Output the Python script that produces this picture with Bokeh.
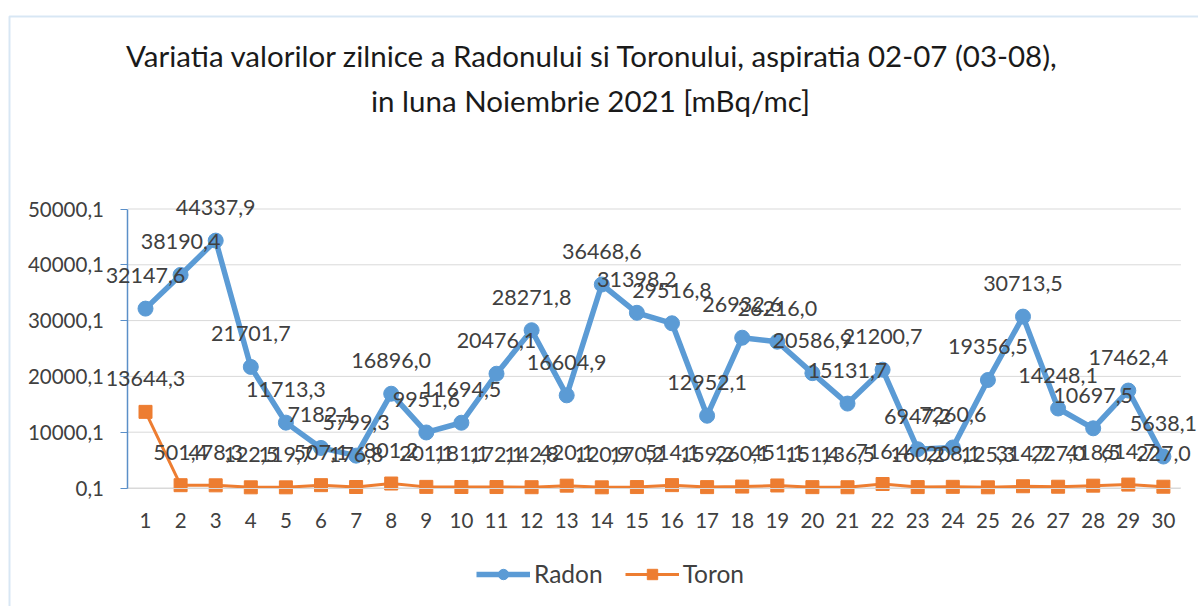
from bokeh.plotting import figure
from bokeh.models import (ColumnDataSource, LabelSet, Label, Legend, LegendItem,
                          FixedTicker, CustomJSTickFormatter, BoxAnnotation, Range1d)
from bokeh.core.properties import value
from bokeh.embed import file_html
from bokeh.resources import INLINE

# ---------------- data ----------------
days = list(range(1, 31))
radon = [32147.6, 38190.4, 44337.9, 21701.7, 11713.3, 7182.1, 5799.3, 16896.0,
         9951.6, 11694.5, 20476.1, 28271.8, 16604.9, 36468.6, 31398.2, 29516.8,
         12952.1, 26932.6, 26216.0, 20586.9, 15131.7, 21200.7, 6947.2, 7260.6,
         19356.5, 30713.5, 14248.1, 10697.5, 17462.4, 5638.1]
toron = [13644.3, 501.4, 478.3, 122.5, 119.7, 507.1, 176.8, 801.2, 201.1, 181.1,
         172.1, 142.8, 420.1, 120.9, 170.2, 514.1, 159.2, 260.1, 451.1, 151.4,
         136.5, 716.4, 160.2, 208.1, 125.3, 314.7, 227.0, 418.5, 614.7, 227.0]
y_ticks = [0.1, 10000.1, 20000.1, 30000.1, 40000.1, 50000.1]
series_names = ["Radon", "Toron"]
title_lines = ["Variatia valorilor zilnice a Radonului si Toronului, aspiratia 02-07 (03-08),",
               "in luna Noiembrie 2021 [mBq/mc]"]

FONT = "Lato"
BLUE = "#5b9bd5"
ORANGE = "#ed7d31"
TXT = "#404040"

def fmt(v):
    return f"{v:.1f}".replace(".", ",")

src = ColumnDataSource(dict(
    x=days, radon=radon, toron=toron,
    radon_lbl=[fmt(v) for v in radon],
    toron_lbl=[fmt(v) for v in toron],
))

# ---------------- layout (pixel geometry) ----------------
W, H = 1198, 606
X1_PX, DX_PX = 145.0, 35.1          # pixel of first category, category spacing
Y0_PX, YTOP_PX = 487.5, 208.5       # pixel of axis min / axis max
y_lo, y_hi = y_ticks[0], y_ticks[-1]
k = (Y0_PX - YTOP_PX) / (y_hi - y_lo)   # px per unit

x_start = days[0] - X1_PX / DX_PX
x_end = days[0] + (W - X1_PX) / DX_PX
y_start = y_lo - (H - Y0_PX) / k
y_end = y_lo + Y0_PX / k

p = figure(width=W, height=H, output_backend="svg", toolbar_location=None,
           x_range=Range1d(x_start, x_end), y_range=Range1d(y_start, y_end),
           min_border=0, min_border_left=0, min_border_right=0,
           min_border_top=0, min_border_bottom=0)
p.background_fill_color = "white"
p.border_fill_color = "white"
p.outline_line_color = None
p.xgrid.visible = False
p.ygrid.visible = False

x_lo, x_hi = days[0] - 0.5, days[-1] + 0.5

# horizontal gridlines across the plot area
p.segment(x0=[x_lo] * len(y_ticks), y0=y_ticks, x1=[x_hi] * len(y_ticks), y1=y_ticks,
          line_color="#d9d9d9", line_width=1)

# y axis
yax = p.yaxis[0]
yax.fixed_location = x_lo
yax.bounds = (y_lo, y_hi)
yax.ticker = FixedTicker(ticks=y_ticks)
yax.formatter = CustomJSTickFormatter(code="return tick.toFixed(1).replace('.', ',');")
yax.axis_line_color = "#5b8fc8"
yax.axis_line_width = 1.5
yax.major_tick_line_color = "#5b8fc8"
yax.major_tick_out = 7
yax.major_tick_in = 0
yax.minor_tick_line_color = None
yax.major_label_standoff = 17
yax.major_label_text_font = FONT
yax.major_label_text_font_size = "20.5px"
yax.major_label_text_color = TXT

# x axis
xax = p.xaxis[0]
xax.fixed_location = y_lo
xax.bounds = (x_lo, x_hi)
xax.ticker = FixedTicker(ticks=days)
xax.axis_line_color = "#d9d9d9"
xax.major_tick_line_color = None
xax.minor_tick_line_color = None
xax.major_tick_out = 0
xax.major_tick_in = 0
xax.major_label_standoff = 25
xax.major_label_text_font = FONT
xax.major_label_text_font_size = "20.5px"
xax.major_label_text_color = TXT

# series
r_line = p.line("x", "radon", source=src, line_color=BLUE, line_width=5.5)
r_mark = p.scatter("x", "radon", source=src, marker="circle", size=15,
                   fill_color=BLUE, line_color=BLUE)
t_line = p.line("x", "toron", source=src, line_color=ORANGE, line_width=3)
t_mark = p.scatter("x", "toron", source=src, marker="square", size=13,
                   fill_color=ORANGE, line_color=ORANGE)

# data labels
for col in ("radon", "toron"):
    ls = LabelSet(x="x", y=col, text=col + "_lbl", source=src, y_offset=33,
                  text_align="center", text_baseline="middle",
                  text_font=value(FONT), text_font_size="21.5px", text_color=TXT)
    p.add_layout(ls)

# title (two centred lines)
for line, (cx, cy) in zip(title_lines, [(592, 55), (590, 100)]):
    p.add_layout(Label(x=cx, y=H - cy, x_units="screen", y_units="screen", text=line,
                       text_align="center", text_baseline="middle",
                       text_font=FONT, text_font_size="29.5px",
                       text_color="#1a1a1a"))

# legend
legend = Legend(items=[LegendItem(label=series_names[0], renderers=[r_line, r_mark]),
                       LegendItem(label=series_names[1], renderers=[t_line, t_mark])],
                orientation="horizontal", location=(476, H - 588))
legend.background_fill_alpha = 0
legend.border_line_color = None
legend.padding = 0
legend.margin = 0
legend.glyph_width = 54
legend.glyph_height = 26
legend.label_standoff = 4
legend.spacing = 22
legend.label_text_font = FONT
legend.label_text_font_size = "24.5px"
legend.label_text_color = TXT
p.add_layout(legend, "center")

# outer box of the chart
box = BoxAnnotation(left=9, top=16, right=W + 50, bottom=H + 50,
                    left_units="canvas", top_units="canvas",
                    right_units="canvas", bottom_units="canvas",
                    fill_alpha=0, line_color="#7fb0dc", line_width=2)
p.add_layout(box)

open("out.html", "w").write(file_html(p, INLINE))
